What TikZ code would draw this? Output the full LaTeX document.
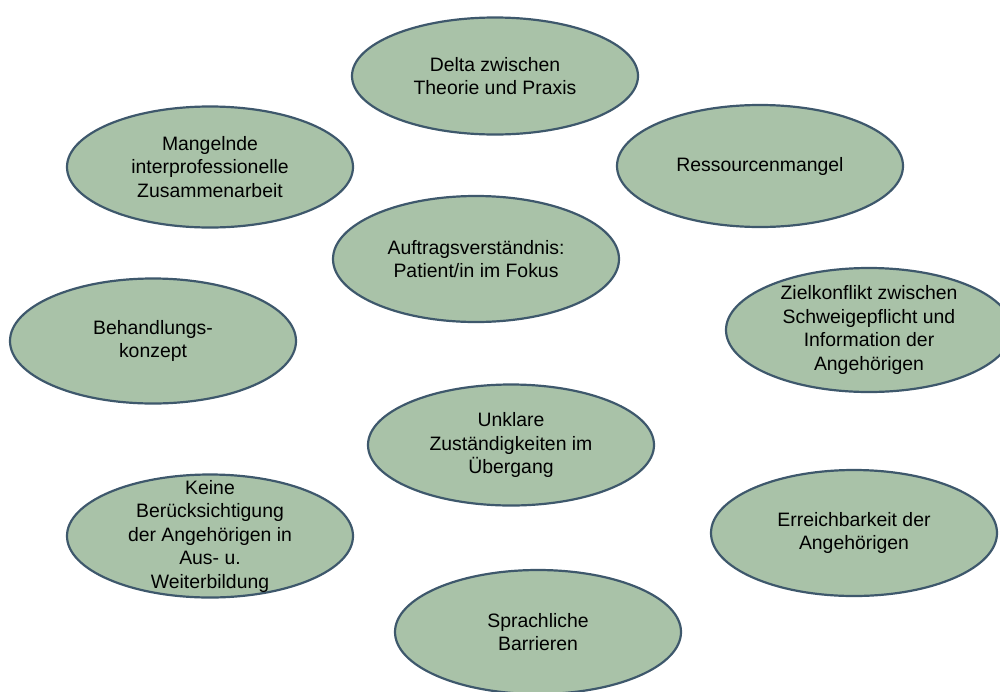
\documentclass[tikz,border=0pt]{standalone}
\usepackage{fontspec}
\setmainfont{Liberation Sans}
\usetikzlibrary{shapes.geometric}
\definecolor{efill}{RGB}{169,194,168}
\definecolor{eline}{RGB}{62,88,108}
\tikzset{
  topic/.style={ellipse, draw=eline, line width=2.2pt, fill=efill,
    minimum width=286pt, minimum height=122pt, inner sep=0pt, align=center,
    font=\fontsize{19.4pt}{23.5pt}\selectfont, text=black}
}
\begin{document}
\begin{tikzpicture}[x=1pt,y=-1pt]
\useasboundingbox (0,0) rectangle (1000,691);
\clip (0,0) rectangle (1000,691);
\node[topic, minimum height=117pt] (delta) at (495,76) {Delta zwischen\\Theorie und Praxis};
\node[topic, minimum height=121pt] (mangel) at (210,167) {Mangelnde\\interprofessionelle\\Zusammenarbeit};
\node[topic] (ress) at (760,166) {Ressourcenmangel};
\node[topic, minimum height=126pt] (auftrag) at (476,259) {Auftragsverständnis:\\Patient/in im Fokus};
\node[topic, minimum height=125pt] (behand) at (153,341) {Behandlungs-\\konzept};
\node[topic, minimum height=124pt, inner ysep=-12pt] (ziel) at (869,330) {Zielkonflikt zwischen\\Schweigepflicht und\\Information der\\Angehörigen};
\node[topic, minimum height=121pt] (unklar) at (511,445) {Unklare\\Zuständigkeiten im\\Übergang};
\node[topic, minimum height=123pt, inner ysep=-25pt] (keine) at (210,536) {Keine\\Berücksichtigung\\der Angehörigen in\\Aus- u.\\Weiterbildung};
\node[topic, minimum height=126pt] (erreich) at (854,533) {Erreichbarkeit der\\Angehörigen};
\node[topic, minimum height=124pt] (sprach) at (538,632) {Sprachliche\\Barrieren};
\end{tikzpicture}
\end{document}
